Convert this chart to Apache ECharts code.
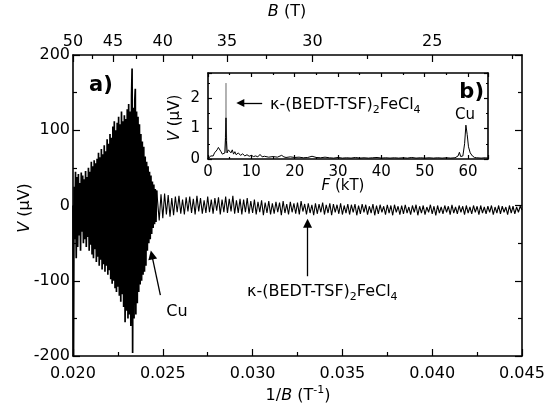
<!DOCTYPE html>
<html><head><meta charset="utf-8">
<script src="https://cdn.jsdelivr.net/npm/echarts@6/dist/echarts.min.js"></script>
<style>html,body{margin:0;padding:0;background:#fff}#c{width:551px;height:409px}</style>
</head><body><div id="c"></div><script>
// ---- data (1/B in T^-1, V in microvolts) ----
const denseTrace = [
[0.02000,0],[0.02003,-200],[0.02006,25],[0.02010,-45],[0.02014,45],[0.02018,-70],[0.02022,38],[0.02026,-55],[0.02030,42],[0.02034,-40],
[0.02038,30],[0.02042,-60],[0.02046,44],[0.02050,-35],[0.02054,40],[0.02058,-50],[0.02062,35],[0.02066,-45],[0.02070,46],[0.02074,-55],
[0.02078,38],[0.02082,-42],[0.02086,50],[0.02090,-60],[0.02094,45],[0.02098,-52],[0.02102,58],[0.02106,-65],[0.02110,52],[0.02114,-70],
[0.02118,60],[0.02122,-58],[0.02126,56],[0.02130,-75],[0.02134,62],[0.02138,-68],[0.02142,70],[0.02146,-80],[0.02150,64],[0.02154,-72],
[0.02158,75],[0.02162,-85],[0.02166,68],[0.02170,-78],[0.02174,80],[0.02178,-88],[0.02182,72],[0.02186,-80],[0.02190,88],[0.02194,-92],
[0.02198,82],[0.02202,-86],[0.02206,95],[0.02210,-98],[0.02214,90],[0.02218,-104],[0.02222,105],[0.02226,-100],[0.02230,112],[0.02234,-110],
[0.02238,100],[0.02242,-115],[0.02246,110],[0.02250,-108],[0.02254,118],[0.02258,-120],[0.02262,108],[0.02266,-128],[0.02270,125],[0.02274,-118],
[0.02278,112],[0.02282,-135],[0.02286,120],[0.02290,-155],[0.02294,115],[0.02298,-140],[0.02302,128],[0.02306,-150],[0.02310,135],[0.02314,-145],
[0.02318,125],[0.02322,-160],[0.02326,145],[0.02329,182],[0.02332,-196],[0.02336,130],[0.02340,-150],[0.02344,140],[0.02347,155],[0.02350,-145],
[0.02354,125],[0.02358,-130],[0.02362,118],[0.02366,-115],[0.02370,108],[0.02374,-105],[0.02378,95],[0.02382,-100],[0.02386,85],[0.02390,-92],
[0.02394,78],[0.02398,-88],[0.02402,65],[0.02406,-80],[0.02410,58],[0.02414,-60],[0.02418,52],[0.02422,-50],[0.02426,45],[0.02430,-45],
[0.02434,40],[0.02438,-38],[0.02442,32],[0.02446,-30],[0.02450,28],[0.02454,-25],[0.02458,22],[0.02462,-22],[0.02466,20]
];
const tailTrace = [
[0.02466,20],[0.0247,18],[0.0248,-20],[0.0249,15],[0.0250,-17],[0.0251,16],[0.0252,-12],[0.0253,14],[0.0254,-15],[0.0255,10],[0.0256,-13],
[0.0257,12],[0.0258,-9],[0.0259,13],[0.0260,-11],[0.0261,8],[0.0262,-12],[0.0263,11],[0.0264,-8],[0.0265,12],[0.0266,-10],
[0.0267,9],[0.0268,-12],[0.0269,13],[0.0270,-8],[0.0271,10],[0.0272,-11],[0.0273,7],[0.0274,-10],[0.0275,12],[0.0276,-9],
[0.0277,8],[0.0278,-11],[0.0279,10],[0.0280,-7],[0.0281,11],[0.0282,-12],[0.0283,8],[0.0284,-9],[0.0285,12],[0.0286,-10],
[0.0287,9],[0.0288,-8],[0.0289,13],[0.0290,-11],[0.0291,7],[0.0292,-10],[0.0293,9],[0.0294,-12],[0.0295,8],[0.0296,-9],
[0.0297,10],[0.0298,-11],[0.0299,6],[0.0300,-10],[0.0301,8],[0.0302,-12],[0.0303,5],[0.0304,-9],[0.0305,7],[0.0306,-13],
[0.0307,4],[0.0308,-10],[0.0309,6],[0.0310,-12],[0.0311,3],[0.0312,-11],[0.0313,5],[0.0314,-9],[0.0315,4],[0.0316,-13],
[0.0317,6],[0.0318,-10],[0.0319,2],[0.0320,-12],[0.0321,5],[0.0322,-9],[0.0323,3],[0.0324,-11],[0.0325,4],[0.0326,-12],
[0.0327,6],[0.0328,-8],[0.0329,2],[0.0330,-12],[0.0331,3],[0.0332,-10],[0.0333,1],[0.0334,-13],[0.0335,3],[0.0336,-11],
[0.0337,2],[0.0338,-9],[0.0339,4],[0.0340,-12],[0.0341,1],[0.0342,-10],[0.0343,3],[0.0344,-13],[0.0345,2],[0.0346,-9],
[0.0347,1],[0.0348,-11],[0.0349,3],[0.0350,-12],[0.0351,0],[0.0352,-10],[0.0353,2],[0.0354,-12],[0.0355,1],[0.0356,-9],
[0.0357,2],[0.0358,-13],[0.0359,0],[0.0360,-11],[0.0361,2],[0.0362,-9],[0.0363,1],[0.0364,-12],[0.0365,-1],[0.0366,-10],
[0.0367,2],[0.0368,-13],[0.0369,0],[0.0370,-11],[0.0371,1],[0.0372,-9],[0.0373,-1],[0.0374,-12],[0.0375,1],[0.0376,-10],
[0.0377,0],[0.0378,-13],[0.0379,1],[0.0380,-9],[0.0381,-1],[0.0382,-12],[0.0383,0],[0.0384,-11],[0.0385,1],[0.0386,-10],
[0.0387,-2],[0.0388,-12],[0.0389,0],[0.0390,-9],[0.0391,1],[0.0392,-13],[0.0393,-1],[0.0394,-10],[0.0395,0],[0.0396,-12],
[0.0397,-2],[0.0398,-9],[0.0399,1],[0.0400,-11],[0.0401,-1],[0.0402,-13],[0.0403,0],[0.0404,-10],[0.0405,-2],[0.0406,-11],
[0.0407,0],[0.0408,-9],[0.0409,-1],[0.0410,-12],[0.0411,1],[0.0412,-10],[0.0413,-2],[0.0414,-11],[0.0415,0],[0.0416,-9],
[0.0417,-1],[0.0418,-12],[0.0419,0],[0.0420,-10],[0.0421,-2],[0.0422,-11],[0.0423,0],[0.0424,-9],[0.0425,-1],[0.0426,-12],
[0.0427,0],[0.0428,-10],[0.0429,-2],[0.0430,-11],[0.0431,-1],[0.0432,-9],[0.0433,0],[0.0434,-12],[0.0435,-2],[0.0436,-10],
[0.0437,0],[0.0438,-11],[0.0439,-1],[0.0440,-9],[0.0441,-2],[0.0442,-12],[0.0443,0],[0.0444,-10],[0.0445,-1],[0.0446,-11],
[0.0447,-2],[0.0448,-9],[0.0449,-1],[0.0450,-6]
];
// inset: Fourier spectrum (F in kT, amplitude in microvolts)
const fftTrace = [
[0,0.0],[0.3,0.05],[0.6,0.1],[0.9,0.16],[1.2,0.1],[1.5,0.2],[1.8,0.26],[2.1,0.3],[2.4,0.38],[2.7,0.32],
[3.0,0.24],[3.3,0.16],[3.6,0.14],[3.9,0.2],[4.05,0.7],[4.15,1.35],[4.25,0.6],[4.4,0.2],[4.7,0.3],[5.0,0.36],
[5.3,0.2],[5.6,0.3],[5.9,0.16],[6.2,0.24],[6.5,0.14],[7,0.2],[7.5,0.12],[8,0.17],[8.5,0.1],[9,0.14],
[9.5,0.09],[10,0.12],[10.5,0.08],[11,0.1],[11.5,0.07],[12,0.15],[12.5,0.07],[13,0.09],[14,0.06],[15,0.08],
[16,0.06],[17,0.12],[17.5,0.07],[18,0.05],[19,0.07],[20,0.05],[21,0.06],[22,0.04],[23,0.05],[24,0.09],
[25,0.05],[26,0.04],[27,0.06],[28,0.04],[29,0.03],[30,0.05],[31,0.03],[32,0.04],[33,0.03],[34,0.05],
[35,0.03],[36,0.04],[37,0.03],[38,0.04],[39,0.05],[40,0.03],[41,0.04],[42,0.03],[43,0.04],[44,0.03],
[45,0.04],[46,0.03],[47,0.05],[48,0.03],[49,0.04],[50,0.03],[51,0.04],[52,0.03],[53,0.04],[54,0.03],
[55,0.04],[56,0.03],[57,0.04],[57.7,0.1],[58,0.22],[58.3,0.08],[58.8,0.1],[59.2,0.5],[59.5,1.11],[59.8,0.8],
[60.1,0.4],[60.5,0.2],[61,0.1],[61.5,0.05],[62,0.04],[63,0.03],[64,0.04],[64.6,0.03]
];
const fftPeakGray = [[3.9,0.2],[4.1,1.2],[4.15,2.49],[4.2,1.2],[4.4,0.2]];
// axis ranges and tick labels
const bottomRange = [0.020, 0.045];
const bottomInterval = 0.005;
const vRange = [-200, 200];
const vInterval = 100;
const topBMajor = [50, 45, 40, 35, 30, 25];
const topBMinor = [47.5, 42.5, 37.5, 32.5, 27.5, 22.5];
const insetFRange = [0, 64.6];
const insetVRange = [0, 2.82];
// annotation arrows (data units)
const mainArrows = [
  {from: [0.024865, -119], to: [0.024387, -65.7]},
  {from: [0.03306, -94], to: [0.03306, -23.5]}
];
const insetArrow = {from: [12.5, 1.84], to: [7.46, 1.84]};

const FONT = 'DejaVu Sans';
const BLACK = '#000';
const axisLine = {show: true, onZero: false, lineStyle: {color: BLACK, width: 1.6}};
const tickLS = {color: BLACK, width: 1.2};

const chart = echarts.init(document.getElementById('c'), null, {renderer: 'canvas'});
const option = {
  animation: false,
  backgroundColor: '#fff',
  grid: [
    {left: 73, top: 55, width: 449, height: 301, show: false},
    {left: 208, top: 73, width: 280, height: 86, show: false}
  ],
  xAxis: [
    {gridIndex: 0, type: 'value', position: 'bottom', min: bottomRange[0], max: bottomRange[1], interval: bottomInterval,
     axisLine: axisLine, axisTick: {inside: true, length: 7, lineStyle: tickLS},
     minorTick: {show: true, splitNumber: 2, length: 4, lineStyle: tickLS},
     splitLine: {show: false}, minorSplitLine: {show: false},
     axisLabel: {formatter: v => v.toFixed(3), fontSize: 16, fontFamily: FONT, color: BLACK, margin: 10, showMinLabel: true, showMaxLabel: true, hideOverlap: false}},
    {gridIndex: 0, type: 'value', position: 'top', min: bottomRange[0], max: bottomRange[1],
     axisLine: axisLine,
     axisTick: {inside: true, length: 7, lineStyle: tickLS, customValues: topBMajor.map(b => 1 / b)},
     splitLine: {show: false},
     axisLabel: {customValues: topBMajor.map(b => 1 / b), formatter: v => String(Math.round(1 / v)), fontSize: 16, fontFamily: FONT, color: BLACK, margin: 5, hideOverlap: false}},
    {gridIndex: 0, type: 'value', position: 'top', min: bottomRange[0], max: bottomRange[1],
     axisLine: {show: false, onZero: false},
     axisTick: {inside: true, length: 4, lineStyle: tickLS, customValues: topBMinor.map(b => 1 / b)},
     splitLine: {show: false}, axisLabel: {show: false}},
    {gridIndex: 1, type: 'value', position: 'bottom', min: insetFRange[0], max: insetFRange[1], interval: 10,
     axisLine: axisLine, axisTick: {inside: true, length: 4, lineStyle: tickLS},
     minorTick: {show: true, splitNumber: 2, length: 2, lineStyle: tickLS},
     splitLine: {show: false},
     axisLabel: {fontSize: 15, fontFamily: FONT, color: BLACK, margin: 6, showMinLabel: true, showMaxLabel: false, hideOverlap: false}},
    {gridIndex: 1, type: 'value', position: 'top', min: insetFRange[0], max: insetFRange[1], interval: 10,
     axisLine: axisLine, axisTick: {inside: true, length: 4, lineStyle: tickLS},
     minorTick: {show: true, splitNumber: 2, length: 2, lineStyle: tickLS},
     splitLine: {show: false}, axisLabel: {show: false}}
  ],
  yAxis: [
    {gridIndex: 0, type: 'value', position: 'left', min: vRange[0], max: vRange[1], interval: vInterval,
     axisLine: axisLine, axisTick: {inside: true, length: 7, lineStyle: tickLS},
     minorTick: {show: true, splitNumber: 2, length: 4, lineStyle: tickLS},
     splitLine: {show: false},
     axisLabel: {fontSize: 16, fontFamily: FONT, color: BLACK, margin: 3, showMinLabel: true, showMaxLabel: true}},
    {gridIndex: 0, type: 'value', position: 'right', min: vRange[0], max: vRange[1], interval: vInterval,
     axisLine: axisLine, axisTick: {inside: true, length: 7, lineStyle: tickLS},
     minorTick: {show: true, splitNumber: 2, length: 4, lineStyle: tickLS},
     splitLine: {show: false}, axisLabel: {show: false}},
    {gridIndex: 1, type: 'value', position: 'left', min: insetVRange[0], max: insetVRange[1], interval: 1,
     axisLine: axisLine, axisTick: {inside: true, length: 4, lineStyle: tickLS},
     minorTick: {show: true, splitNumber: 2, length: 2, lineStyle: tickLS},
     splitLine: {show: false},
     axisLabel: {fontSize: 15, fontFamily: FONT, color: BLACK, margin: 8, showMinLabel: true, showMaxLabel: false}},
    {gridIndex: 1, type: 'value', position: 'right', min: insetVRange[0], max: insetVRange[1], interval: 1,
     axisLine: axisLine, axisTick: {inside: true, length: 4, lineStyle: tickLS},
     minorTick: {show: true, splitNumber: 2, length: 2, lineStyle: tickLS},
     splitLine: {show: false}, axisLabel: {show: false}}
  ],
  series: [
    {type: 'line', xAxisIndex: 0, yAxisIndex: 0, data: denseTrace,
     showSymbol: false, symbol: 'none', lineStyle: {color: BLACK, width: 1.7}, silent: true},
    {type: 'line', xAxisIndex: 0, yAxisIndex: 0, data: tailTrace,
     showSymbol: false, symbol: 'none', lineStyle: {color: BLACK, width: 1.1}, silent: true,
     markLine: {silent: true, animation: false, symbol: ['none', 'triangle'], symbolSize: 9,
       lineStyle: {color: BLACK, width: 1.3, type: 'solid'}, label: {show: false},
       data: mainArrows.map(a => [{coord: a.from}, {coord: a.to}])}},
    {type: 'line', xAxisIndex: 3, yAxisIndex: 2, data: fftPeakGray, showSymbol: false, symbol: 'none',
     lineStyle: {color: '#9a9a9a', width: 1}, silent: true},
    {type: 'line', xAxisIndex: 3, yAxisIndex: 2, data: fftTrace, showSymbol: false, symbol: 'none',
     lineStyle: {color: BLACK, width: 1}, silent: true,
     markLine: {silent: true, animation: false, symbol: ['none', 'triangle'], symbolSize: 8,
       lineStyle: {color: BLACK, width: 1.3, type: 'solid'}, label: {show: false},
       data: [[{coord: insetArrow.from}, {coord: insetArrow.to}]]}}
  ],
  graphic: [
    {type: 'text', x: 287, y: 12, style: {text: '{i|B} (T)', fontSize: 16, fontFamily: FONT, fill: BLACK, align: 'center', verticalAlign: 'middle',
      rich: {i: {fontStyle: 'italic', fontSize: 16, fontFamily: FONT}}}},
    {type: 'text', x: 298, y: 396, style: {text: '{n|1/}{i|B}{n| (T}{s|-1}{n|)}', fontSize: 16, fontFamily: FONT, fill: BLACK, align: 'center', verticalAlign: 'middle',
      rich: {n: {fontSize: 16, fontFamily: FONT, lineHeight: 22}, i: {fontSize: 16, fontFamily: FONT, fontStyle: 'italic', lineHeight: 22},
             s: {fontSize: 11, fontFamily: FONT, lineHeight: 11, verticalAlign: 'top'}}}},
    {type: 'text', x: 25, y: 208, rotation: Math.PI / 2, style: {text: '{i|V} (μV)', fontSize: 16, fontFamily: FONT, fill: BLACK, align: 'center', verticalAlign: 'middle',
      rich: {i: {fontStyle: 'italic', fontSize: 16, fontFamily: FONT}}}},
    {type: 'text', x: 343, y: 186, style: {text: '{i|F} (kT)', fontSize: 15, fontFamily: FONT, fill: BLACK, align: 'center', verticalAlign: 'middle',
      rich: {i: {fontStyle: 'italic', fontSize: 15, fontFamily: FONT}}}},
    {type: 'text', x: 175, y: 118, rotation: Math.PI / 2, style: {text: '{i|V} (μV)', fontSize: 15, fontFamily: FONT, fill: BLACK, align: 'center', verticalAlign: 'middle',
      rich: {i: {fontStyle: 'italic', fontSize: 15, fontFamily: FONT}}}},
    {type: 'text', x: 89, y: 86, style: {text: 'a)', fontSize: 21, fontWeight: 'bold', fontFamily: FONT, fill: BLACK, align: 'left', verticalAlign: 'middle'}},
    {type: 'text', x: 484, y: 93, style: {text: 'b)', fontSize: 21, fontWeight: 'bold', fontFamily: FONT, fill: BLACK, align: 'right', verticalAlign: 'middle'}},
    {type: 'text', x: 465, y: 115, style: {text: 'Cu', fontSize: 15, fontFamily: FONT, fill: BLACK, align: 'center', verticalAlign: 'middle'}},
    {type: 'text', x: 177, y: 312, style: {text: 'Cu', fontSize: 16, fontFamily: FONT, fill: BLACK, align: 'center', verticalAlign: 'middle'}},
    {type: 'text', x: 270, y: 105, style: {text: '{n|κ-(BEDT-TSF)}{s|2}{n|FeCl}{s|4}', fontSize: 16, fontFamily: FONT, fill: BLACK, align: 'left', verticalAlign: 'middle',
      rich: {n: {fontSize: 16, fontFamily: FONT, lineHeight: 22}, s: {fontSize: 11, fontFamily: FONT, lineHeight: 11, verticalAlign: 'bottom'}}}},
    {type: 'text', x: 247, y: 292, style: {text: '{n|κ-(BEDT-TSF)}{s|2}{n|FeCl}{s|4}', fontSize: 16, fontFamily: FONT, fill: BLACK, align: 'left', verticalAlign: 'middle',
      rich: {n: {fontSize: 16, fontFamily: FONT, lineHeight: 22}, s: {fontSize: 11, fontFamily: FONT, lineHeight: 11, verticalAlign: 'bottom'}}}}
  ]
};
chart.setOption(option);
</script></body></html>
